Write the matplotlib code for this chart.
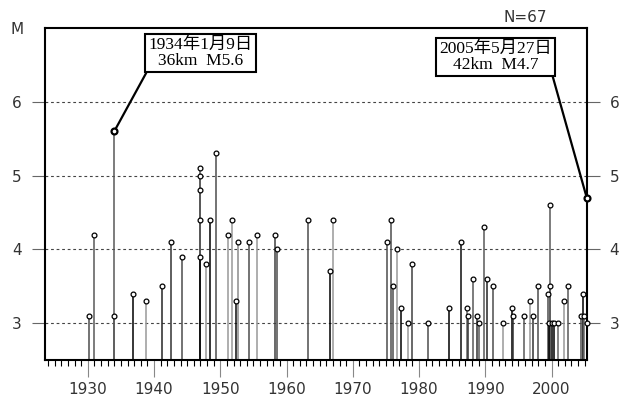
import numpy as np
import matplotlib
matplotlib.use('Agg')
import matplotlib.pyplot as plt
from matplotlib.ticker import MultipleLocator

# event data (decimal year, magnitude)
years = [1930.2, 1931.0, 1934.0, 1934.0, 1936.8, 1938.8, 1941.2, 1942.6, 1944.2,
         1946.9, 1946.9, 1946.9, 1946.9, 1946.9, 1947.8, 1948.4, 1949.3,
         1951.1, 1951.8, 1952.3, 1952.7, 1954.4, 1955.6, 1958.2, 1958.5,
         1963.3, 1966.5, 1967.0, 1975.1, 1975.7, 1976.0, 1976.7, 1977.3,
         1978.3, 1979.0, 1981.4, 1984.5, 1986.4, 1987.2, 1987.4, 1988.2,
         1988.7, 1989.0, 1989.8, 1990.3, 1991.1, 1992.6, 1994.0, 1994.2,
         1995.9, 1996.7, 1997.2, 1998.0, 1999.4, 1999.7, 1999.7, 1999.6,
         2000.0, 2000.3, 2001.0, 2001.8, 2002.4, 2004.4, 2004.7, 2004.9,
         2005.3, 2005.3]
mags = [3.1, 4.2, 3.1, 5.6, 3.4, 3.3, 3.5, 4.1, 3.9,
        5.1, 5.0, 4.8, 4.4, 3.9, 3.8, 4.4, 5.3,
        4.2, 4.4, 3.3, 4.1, 4.1, 4.2, 4.2, 4.0,
        4.4, 3.7, 4.4, 4.1, 4.4, 3.5, 4.0, 3.2,
        3.0, 3.8, 3.0, 3.2, 4.1, 3.2, 3.1, 3.6,
        3.1, 3.0, 4.3, 3.6, 3.5, 3.0, 3.2, 3.1,
        3.1, 3.3, 3.1, 3.5, 3.4, 3.5, 4.6, 3.0,
        3.0, 3.0, 3.0, 3.3, 3.5, 3.1, 3.4, 3.1,
        3.0, 4.7]
# grey level of each stem as seen in the picture
shade = [0.3, 0.35, 0.35, 0.35, 0.0, 0.6, 0.15, 0.2, 0.3,
         0.35, 0.35, 0.35, 0.35, 0.0, 0.6, 0.0, 0.3,
         0.6, 0.6, 0.05, 0.55, 0.3, 0.6, 0.25, 0.3,
         0.3, 0.0, 0.6, 0.3, 0.3, 0.3, 0.6, 0.0,
         0.6, 0.25, 0.3, 0.0, 0.05, 0.4, 0.2, 0.35,
         0.2, 0.35, 0.35, 0.15, 0.3, 0.6, 0.0, 0.2,
         0.35, 0.6, 0.2, 0.3, 0.3, 0.35, 0.35, 0.0,
         0.0, 0.0, 0.4, 0.6, 0.35, 0.3, 0.0, 0.4,
         0.6, 0.0]

labels = [(1934.0, 5.6, '1934年1月9日\n36km  M5.6'),
          (2005.3, 4.7, '2005年5月27日\n42km  M4.7')]
n_events = 67

ymin, ymax = 2.5, 7.0
xmin, xmax = 1923.5, 2005.3

fig = plt.figure(figsize=(6.29, 3.96), dpi=100)
ax = fig.add_axes([0.0711, 0.0909, 0.8617, 0.8384])
ax.set_xlim(xmin, xmax)
ax.set_ylim(ymin, ymax)

# dashed level lines
for m in [3, 4, 5, 6]:
    ax.axhline(m, color='#444444', lw=0.8, ls=(0, (2.5, 2.5)), zorder=1)

cols = [str(s) for s in shade]
ax.vlines(years, ymin, mags, colors=cols, lw=1.1, zorder=2, clip_on=False)
ax.scatter(years, mags, s=12, facecolors='white', edgecolors='black',
           linewidths=0.9, zorder=3, clip_on=False)

# highlighted events with label boxes
font_lbl = ['Liberation Serif', 'Noto Sans CJK JP']
for (x, y, txt), (tx, ty, rp) in zip(labels, [(1947.0, 6.66, (0, 0)),
                                              (1991.5, 6.61, (1, 0))]):
    ax.scatter([x], [y], s=18, facecolors='white', edgecolors='black',
               linewidths=1.6, zorder=4, clip_on=False)
    ax.annotate(txt, xy=(x, y), xytext=(tx, ty), ha='center', va='center',
                multialignment='center', fontsize=12.5, family=font_lbl,
                linespacing=1.0,
                bbox=dict(boxstyle='square,pad=0.18', fc='white', ec='black', lw=1.5),
                arrowprops=dict(arrowstyle='-', lw=1.6, color='black',
                                relpos=rp, shrinkA=0, shrinkB=2.5),
                zorder=5, annotation_clip=False)

for sp in ax.spines.values():
    sp.set_linewidth(1.5)

ax.xaxis.set_major_locator(MultipleLocator(10))
ax.xaxis.set_minor_locator(MultipleLocator(1))
ax.set_yticks([3, 4, 5, 6])
ax.tick_params(axis='x', which='major', direction='out', length=12.5, width=0.8,
               color='#888888', pad=3, labelsize=11)
ax.tick_params(axis='x', which='minor', direction='out', length=4.5, width=0.8,
               color='black')
ax.tick_params(axis='y', direction='out', length=9.5, width=0.8, color='#666666',
               labelsize=11, pad=7, left=True, right=True,
               labelleft=True, labelright=True)
ax.set_xticks([1930, 1940, 1950, 1960, 1970, 1980, 1990, 2000])
for lab in ax.get_xticklabels() + ax.get_yticklabels() + ax.get_yticklabels(minor=False):
    lab.set_family('DejaVu Sans')
    lab.set_color('#333333')
for lab in ax.yaxis.get_ticklabels(which='both'):
    lab.set_family('DejaVu Sans')
    lab.set_color('#333333')

fig.text(17 / 629, 1 - 30 / 396, 'M', ha='center', va='center', fontsize=11,
         family='DejaVu Sans', color='#333333')
fig.text(525 / 629, 1 - 17 / 396, f'N={n_events}', ha='center', va='center',
         fontsize=11, family='DejaVu Sans', color='#333333')

fig.savefig('out.png', dpi=100)
